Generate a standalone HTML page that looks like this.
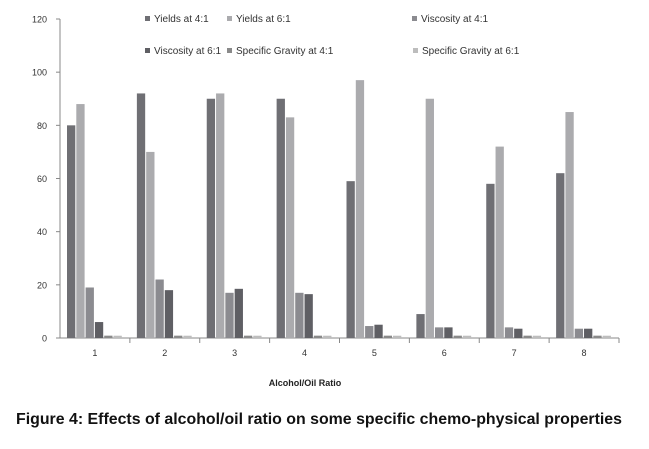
<!DOCTYPE html>
<html><head><meta charset="utf-8"><style>
html,body{margin:0;padding:0;background:#fff;width:649px;height:449px;overflow:hidden}
svg{display:block}
text{font-family:"Liberation Sans",sans-serif}
</style></head><body>
<svg id="chart" width="649" height="449"></svg>
<script>
const categories=["1","2","3","4","5","6","7","8"];
const seriesNames=["Yields at 4:1","Yields at 6:1","Viscosity at 4:1","Viscosity at 6:1","Specific Gravity at 4:1","Specific Gravity at 6:1"];
const yields41=[80,92,90,90,59,9,58,62];
const yields61=[88,70,92,83,97,90,72,85];
const visc41=[19,22,17,17,4.5,4,4,3.5];
const visc61=[6,18,18.5,16.5,5,4,3.5,3.5];
const sg41=[0.88,0.88,0.88,0.88,0.88,0.88,0.88,0.88];
const sg61=[0.86,0.86,0.86,0.86,0.86,0.86,0.86,0.86];
const yTicks=[0,20,40,60,80,100,120];
const colors=["#6f6f74","#ababae","#8b8b90","#5f5f64","#8a8a8a","#bdbdbd"];
const series=[yields41,yields61,visc41,visc61,sg41,sg61];
const NS="http://www.w3.org/2000/svg";
const svg=document.getElementById('chart');
const x0=60,x1=619,y0=338,yTop=19,yMax=120;
const gw=(x1-x0)/categories.length;
const y=v=>y0-(v/yMax)*(y0-yTop);
function el(t,a,p){const e=document.createElementNS(NS,t);for(const k in a)e.setAttribute(k,a[k]);(p||svg).appendChild(e);return e;}
let ax=el('line',{x1:x0,y1:yTop,x2:x0,y2:y0,stroke:'#888','stroke-width':1});


let bx=el('line',{x1:x0-4,y1:y0,x2:x1,y2:y0,stroke:'#888','stroke-width':1});


yTicks.forEach(t=>{
 const tk=el('line',{x1:x0-4,y1:y(t),x2:x0,y2:y(t),stroke:'#888'});
 
 
 const tx=el('text',{x:x0-13,y:y(t)+3.5,'text-anchor':'end','font-size':9,fill:'#333'});
 tx.textContent=t;
 
 
});
const bw=9.3;
categories.forEach((c,i)=>{
 const gx=x0+i*gw;
 const tk=el('line',{x1:x0+(i+1)*gw,y1:y0,x2:x0+(i+1)*gw,y2:y0+5,stroke:'#888'});
 
 
 const tx=el('text',{x:gx+gw/2,y:y0+18,'text-anchor':'middle','font-size':9,fill:'#333'});
 tx.textContent=c;
 
 
 series.forEach((s,j)=>{
  const bxp=gx+7+j*bw;
  const r=el('rect',{x:bxp,y:y(s[i]),width:bw-1,height:y0-y(s[i]),fill:colors[j]});
  
  
 });
});
const legPos=[[145,20],[227,20],[412,20],[145,52],[227,52],[413,52]];
seriesNames.forEach((n,j)=>{
 const g=el('g',{});
 
 
 el('rect',{x:legPos[j][0],y:legPos[j][1]-4,width:5,height:5,fill:colors[j]},g);
 const t=el('text',{x:legPos[j][0]+9,y:legPos[j][1]+2,'font-size':10,fill:'#333'},g);
 t.textContent=n;
});
const xt=el('text',{x:305,y:386,'text-anchor':'middle','font-size':9,fill:'#222','font-weight':'bold'});
xt.textContent='Alcohol/Oil Ratio';


const cap=el('text',{x:16,y:424,'font-size':15.5,fill:'#111','font-weight':'bold',textLength:606,lengthAdjust:'spacingAndGlyphs'});
cap.textContent='Figure 4: Effects of alcohol/oil ratio on some specific chemo-physical properties';


</script>
</body></html>
